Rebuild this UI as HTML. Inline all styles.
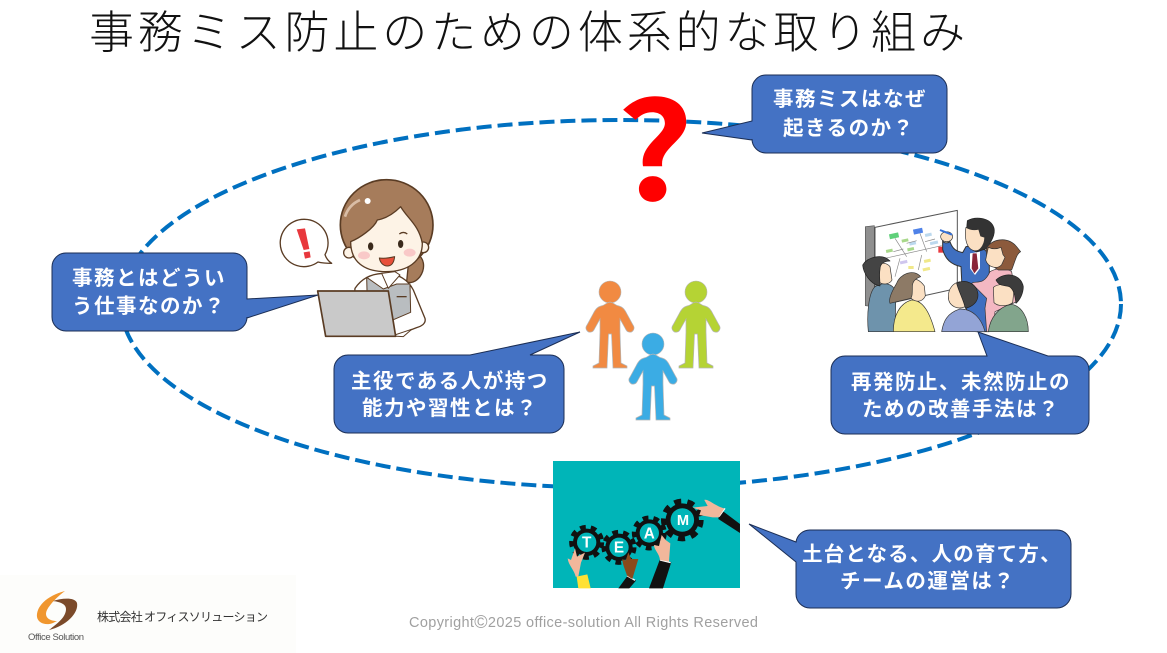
<!DOCTYPE html>
<html lang="ja"><head><meta charset="utf-8"><style>
html,body{margin:0;padding:0;background:#fff}
svg{display:block}
.c{font-family:"Liberation Sans","Noto Sans CJK JP",sans-serif;font-size:20.5px;font-weight:700;fill:#fff;letter-spacing:1.5px}
.j{font-family:"Noto Sans CJK JP",sans-serif}
</style></head><body>
<svg width="1167" height="653" viewBox="0 0 1167 653" xmlns="http://www.w3.org/2000/svg">
<rect width="1167" height="653" fill="#fff"/>
<rect x="0" y="575" width="296" height="78" fill="#fdfdfb"/>
<text x="89" y="48" class="j" font-size="45" fill="#111" font-weight="300" textLength="876" lengthAdjust="spacing">事務ミス防止のための体系的な取り組み</text>

<ellipse cx="621" cy="304" rx="500" ry="184" fill="none" stroke="#0070C0" stroke-width="4" stroke-dasharray="15 6"/>

<!-- woman -->
<g transform="translate(260,170) scale(.3333)" stroke-linejoin="round">
<rect x="55" y="30" width="460" height="480" fill="#fff"/>
<path d="M132 148a71 71 0 1 0 42 128c12 3 26 4 41 4c-9-6-16-14-20-26a71 71 0 0 0-63-106z" fill="#fff" stroke="#5a3c24" stroke-width="4"/>
<path d="M110 178l25-3 13 62-17 3z" fill="#e8383d"/>
<path d="M131 247l18-3 3 18-17 4z" fill="#e8383d"/>
<path d="M465 250c30 10 32 45 15 70c-12 15-28 22-40 15l5-50z" fill="#a67c5b" stroke="#5a3c24" stroke-width="4"/>
<path d="M285 355c20-30 50-45 90-45s70 20 85 50l35 85c3 12-5 22-25 28l-65 25-130-20z" fill="#fff" stroke="#5a3c24" stroke-width="4"/>
<path d="M320 322l50 35 40-15 40 0 2 85-70 30-60-60z" fill="#b9bdc0" stroke="#5a3c24" stroke-width="3"/>
<path d="M365 310l20 45 35-40-15-10z" fill="#fff" stroke="#5a3c24" stroke-width="3"/>
<path d="M410 380h30" stroke="#5a3c24" stroke-width="4"/>
<ellipse cx="380" cy="165" rx="139" ry="136" fill="#a67c5b" stroke="#5a3c24" stroke-width="5"/>
<circle cx="267" cy="248" r="16" fill="#fdf3e6" stroke="#5a3c24" stroke-width="4"/>
<circle cx="490" cy="232" r="16" fill="#fdf3e6" stroke="#5a3c24" stroke-width="4"/>
<path d="M272 215c25-10 70-40 80-65c30-5 55-25 70-40c20 35 55 55 65 110c0 55-45 85-110 85s-105-30-105-90z" fill="#fdf3e6" stroke="#5a3c24" stroke-width="4"/>
<circle cx="323" cy="93" r="9" fill="#fff"/>
<path d="M255 140c8-25 22-40 45-50" stroke="#d9bda6" stroke-width="8" fill="none"/>
<ellipse cx="332" cy="229" rx="8" ry="12" fill="#3a2a1c"/>
<ellipse cx="422" cy="222" rx="8" ry="12" fill="#3a2a1c"/>
<path d="M418 192c8-6 16-6 24 0" stroke="#5a3c24" stroke-width="4" fill="none"/>
<ellipse cx="312" cy="256" rx="18" ry="12" fill="#f9c9c8"/>
<ellipse cx="449" cy="248" rx="18" ry="12" fill="#f9c9c8"/>
<path d="M358 264c15 2 30 0 46-4c-2 18-10 28-22 28s-22-10-24-24z" fill="#e8503a" stroke="#5a3c24" stroke-width="3"/>
<path d="M395 498l60-20-25 22z" fill="#fff" stroke="#5a3c24" stroke-width="3"/>
<path d="M173 363h212l22 136H197z" fill="#c9c9c9" stroke="#5a3c24" stroke-width="5"/>
</g>

<!-- question mark -->
<text transform="translate(655,200) scale(1.12,1)" text-anchor="middle" font-family="Noto Sans CJK JP,sans-serif" font-weight="700" font-size="134" fill="#f00">?</text>

<!-- people -->
<defs><path id="p" d="M0 10C5 11 4 13 9 14C13 15 15 18 17 22L23 33C26 37 22 41 19 40C17 40 16 38 15 36L10 27L10 40L11 71L17 74L17 76L3 76L1.5 42L-1.5 42L-3 76L-17 76L-17 74L-11 71L-10 40L-10 27L-15 36C-16 38-17 40-19 40C-22 41-26 37-23 33L-17 22C-15 18-13 15-9 14C-4 13-5 11 0 10Z" stroke="#b5b5b5" stroke-width=".7"/></defs>
<g fill="#F18A42"><circle cx="610" cy="292" r="11" stroke="#b5b5b5" stroke-width=".6"/><use href="#p" x="610" y="292"/></g>
<g fill="#B5D334"><circle cx="696" cy="292" r="11" stroke="#b5b5b5" stroke-width=".6"/><use href="#p" x="696" y="292"/></g>
<g fill="#3BACE4"><circle cx="653" cy="344" r="11" stroke="#b5b5b5" stroke-width=".6"/><use href="#p" x="653" y="344"/></g>

<!-- meeting -->
<g transform="translate(850,200) scale(.3333)" stroke-linejoin="round">
<rect x="40" y="25" width="500" height="372" fill="#fff"/>
<path d="M46 80l27-3v243l-27-3z" fill="#8f8f8f" stroke="#555" stroke-width="2"/>
<path d="M75 82L322 31V265L75 320z" fill="#fff" stroke="#555" stroke-width="3"/>
<rect x="118" y="100" width="28" height="15" fill="#5fd07a" transform="rotate(-12 132 107)"/>
<rect x="190" y="86" width="28" height="15" fill="#4f82e8" transform="rotate(-12 204 93)"/>
<g fill="#bcd9ee"><rect x="225" y="100" width="20" height="9" transform="rotate(-12 235 104)"/><rect x="240" y="124" width="24" height="9" transform="rotate(-12 252 128)"/><rect x="178" y="126" width="20" height="9" transform="rotate(-12 188 130)"/></g>
<g fill="#a8d88a"><rect x="155" y="117" width="20" height="9" transform="rotate(-12 165 121)"/><rect x="172" y="143" width="20" height="9" transform="rotate(-12 182 147)"/><rect x="108" y="148" width="20" height="9" transform="rotate(-12 118 152)"/></g>
<g fill="#cfc6ee"><rect x="150" y="182" width="22" height="9" transform="rotate(-12 161 186)"/></g>
<g fill="#f0e88a"><rect x="222" y="178" width="20" height="9" transform="rotate(-12 232 182)"/><rect x="218" y="203" width="22" height="9" transform="rotate(-12 229 207)"/><rect x="175" y="198" width="16" height="9"/></g>
<path d="M135 115l35 55M210 100l20 55M105 175l170-38M150 175l-15 55M215 165l-10 45M170 130l30-8M130 155l30-8M225 125l30-8" stroke="#888" stroke-width="2" fill="none"/>
<rect x="265" y="140" width="20" height="18" fill="#e8383d"/>
<!-- presenter -->
<path d="M300 125c-8 5-18 5-22-2l0 25c8 30 25 45 55 52l5 100 40 95h40l0-225c-10-30-40-35-70-30l-10 18c-20-5-30-10-38-33z" fill="#3f6fc0" stroke="#333" stroke-width="3"/>
<path d="M360 160l30-5 0 50-15 20-15-20z" fill="#fff"/><path d="M368 160h12l5 45-12 15-8-15z" fill="#8a2538"/>
<path d="M352 62c25-14 70-10 80 22c5 20-8 40-22 62l-30 10c-20-5-35-40-28-94z" fill="#333" stroke="#222" stroke-width="2"/>
<path d="M348 82c12 8 28 8 38 6l6 20 12 4c0 15-5 25-12 33c-10 12-28 8-36-4c-10-14-12-40-8-59z" fill="#fbe0c3" stroke="#333" stroke-width="2"/>
<ellipse cx="290" cy="110" rx="18" ry="15" fill="#fbe0c3" stroke="#333" stroke-width="2"/>
<path d="M270 90l36 14" stroke="#3470d8" stroke-width="6"/>
<!-- woman right -->
<path d="M420 215c20-12 50-12 65 0l15 90-65 30-5 60h-20l-5-70 5-30-45-45c10-10 35 10 55-35z" fill="#f4b8c2" stroke="#333" stroke-width="2"/>
<path d="M410 145c10-25 60-40 90-5l12 15c-12 5-17 30-27 55l-40 0c-25-15-40-40-35-65z" fill="#8c5a3c" stroke="#333" stroke-width="2"/>
<path d="M415 142c12 6 25 6 38 0l6 22 6 8-10 22c-12 14-40 10-48-14z" fill="#fbe0c3" stroke="#333" stroke-width="2"/>
<!-- front left -->
<path d="M55 395c-5-50 0-115 20-135c25-15 50-10 60 10c5 30 0 80 0 125z" fill="#6e93ac" stroke="#333" stroke-width="2"/>
<path d="M80 195c15-10 32-5 40 5l6 40c-8 15-30 15-40 5z" fill="#fbe0c3" stroke="#333" stroke-width="2"/>
<path d="M38 195c15-25 60-35 82-12c-20 0-30 10-30 25c-3 15 0 30 0 50c-30-5-50-40-52-63z" fill="#444" stroke="#222" stroke-width="2"/>
<!-- yellow -->
<path d="M130 395c0-50 20-85 55-95c35 0 55 40 70 95z" fill="#f4e98c" stroke="#333" stroke-width="2"/>
<path d="M178 240c15-8 32 0 45 18l3 30c-10 20-30 20-45 5z" fill="#fbe0c3" stroke="#333" stroke-width="2"/>
<path d="M140 250c10-28 50-45 72-20c-15 5-25 15-25 30c0 20 0 30-5 35l-20 5-42 10c-5-12 5-35 20-60z" fill="#8d7a66" stroke="#333" stroke-width="2"/>
<!-- back blue -->
<path d="M275 395c5-30 15-55 55-68c40 0 65 30 75 68z" fill="#93a4d6" stroke="#333" stroke-width="2"/>
<path d="M295 290c0-25 15-42 35-45l15 75c-20 10-50 0-50-30z" fill="#fbe0c3" stroke="#333" stroke-width="2"/>
<path d="M320 250c25-15 62 0 64 35c0 20-15 35-38 40c-5-25-20-50-26-75z" fill="#444" stroke="#222" stroke-width="2"/>
<!-- green -->
<path d="M415 395c5-40 30-75 70-82c30 5 50 40 50 82z" fill="#82a58c" stroke="#333" stroke-width="2"/>
<path d="M430 262c15-12 50-12 62 8l-4 38c-15 12-45 12-56 0z" fill="#fbe0c3" stroke="#333" stroke-width="2"/>
<path d="M438 240c25-25 75-20 82 20c0 20-10 40-22 50c-3-20-5-40-20-50c-15-5-30 0-40-20z" fill="#3c3c3c" stroke="#222" stroke-width="2"/>
</g>

<!-- team -->
<rect x="553" y="461" width="187" height="127" fill="#00B5B8"/>
<g transform="translate(545,455) scale(.3333)">
<defs>
<g id="g1"><circle r="45" fill="none" stroke="#111" stroke-width="15" stroke-dasharray="17 15"/><circle r="41" fill="#111"/><circle r="29" fill="#00B5B8"/></g>
</defs>
<use href="#g1" transform="translate(125,262)"/>
<use href="#g1" transform="translate(222,277)"/>
<use href="#g1" transform="translate(313,234)"/>
<use href="#g1" transform="translate(412,195) scale(1.22)"/>
<g font-family="Liberation Sans" font-weight="700" fill="#fff" text-anchor="middle">
<text x="125" y="278" font-size="46">T</text>
<text x="222" y="293" font-size="46">E</text>
<text x="313" y="250" font-size="46">A</text>
<text x="414" y="210" font-size="44">M</text>
</g>
<path d="M92 365c-3-18-22-35-24-55l10 5 12-35 6 25 24-12-12 30-8 42z" fill="#f2b79b"/>
<path d="M95 365l32-7 10 42H100z" fill="#ffe135"/>
<path d="M220 400l28-38 25 15-20 23z" fill="#111"/><path d="M246 362l24 14" stroke="#fff" stroke-width="4"/>
<path d="M246 362c-6-20-14-35-14-50l10 5 8-25 8 20 22 0-18 60z" fill="#8a4a1c"/>
<path d="M312 400l32-85 35 6-25 79z" fill="#111"/><path d="M345 315l32 8" stroke="#fff" stroke-width="4"/>
<path d="M345 315c-2-20-18-30-18-45l15 3 8-33 12 15 14 10-4 55z" fill="#f2b79b"/>
<path d="M525 162l60 45v27l-65-42z" fill="#111"/><path d="M540 160l-18 25" stroke="#fff" stroke-width="4"/>
<path d="M538 160c-25-5-50-30-60-25l10 18-45 5 25 8-5 14 40 7 18 0z" fill="#f2b79b"/>
</g>

<!-- callouts -->
<g fill="#4472C4" stroke="#1B2E55" stroke-width="1">
<path d="M766 75H933a14 14 0 0 1 14 14V139a14 14 0 0 1-14 14H766a14 14 0 0 1-14-14V140L702 133L752 121V89a14 14 0 0 1 14-14z"/>
<path d="M66 253H233a14 14 0 0 1 14 14V299L318 295L247 318V317a14 14 0 0 1-14 14H66a14 14 0 0 1-14-14V267a14 14 0 0 1 14-14z"/>
<path d="M348 355H470L580 332L530 355H550a14 14 0 0 1 14 14V419a14 14 0 0 1-14 14H348a14 14 0 0 1-14-14V369a14 14 0 0 1 14-14z"/>
<path d="M845 356H987L978 332L1048 356H1075a14 14 0 0 1 14 14V420a14 14 0 0 1-14 14H845a14 14 0 0 1-14-14V370a14 14 0 0 1 14-14z"/>
<path d="M810 530H1057a14 14 0 0 1 14 14V594a14 14 0 0 1-14 14H810a14 14 0 0 1-14-14V562L749 524L796 542A14 14 0 0 1 810 530z"/>
</g>
<g class="c">
<text class="c" x="773" y="106">事務ミスはなぜ</text>
<text class="c" x="783" y="135">起きるのか？</text>
<text class="c" x="72" y="285">事務とはどうい</text>
<text class="c" x="72" y="313">う仕事なのか？</text>
<text class="c" x="351" y="388">主役である人が持つ</text>
<text class="c" x="362" y="415">能力や習性とは？</text>
<text class="c" x="851" y="389">再発防止、未然防止の</text>
<text class="c" x="862" y="416">ための改善手法は？</text>
<text class="c" x="802" y="561" style="letter-spacing:1.2px">土台となる、人の育て方、</text>
<text class="c" x="840" y="588">チームの運営は？</text>
</g>

<!-- footer -->
<text x="409" y="627" font-family="Liberation Sans,Noto Sans CJK JP,sans-serif" font-size="14.5" fill="#a0a0a0" textLength="349" lengthAdjust="spacing">Copyright<tspan font-size="18" dy="1">©</tspan><tspan dy="-1">2025 office-solution All Rights Reserved</tspan></text>
<path d="M65 591C46 596 36 607 37 617C38 623 46 626 53 623L57 621C48 621 44 616 47 610C50 604 58 596 65 591z" fill="#F0962E"/>
<path d="M53 601C62 598 75 597 77 603C79 613 66 626 49 630C58 623 66 617 66 609C66 604 60 602 53 601z" fill="#7B4A2A"/>
<text x="28" y="640" font-family="Liberation Sans" font-size="9.5" fill="#555" textLength="56">Office Solution</text>
<text x="97" y="621" font-family="Noto Sans CJK JP,sans-serif" font-size="12" fill="#333" textLength="171">株式会社 オフィスソリューション</text>
</svg>
</body></html>
